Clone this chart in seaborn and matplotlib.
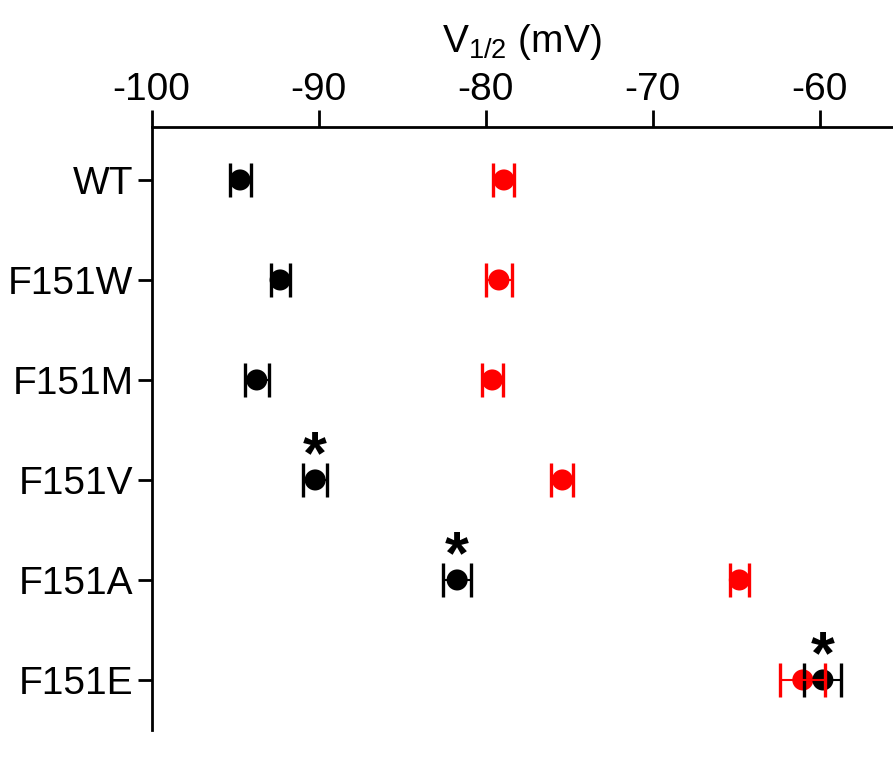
import numpy as np
import pandas as pd
import matplotlib
matplotlib.use("Agg")
import matplotlib.pyplot as plt
import seaborn as sns

# V1/2 values (mV)
mutants = ["WT", "F151W", "F151M", "F151V", "F151A", "F151E"]
v_black = [-94.7, -92.3, -93.7, -90.2, -81.7, -59.8]
err_black = [0.63, 0.57, 0.71, 0.72, 0.83, 1.1]
v_red = [-78.9, -79.2, -79.6, -75.4, -64.8, -61.0]
err_red = [0.63, 0.76, 0.64, 0.65, 0.55, 1.34]
significant = [False, False, False, True, True, True]

sns.set_style("ticks", {"axes.edgecolor": "black", "text.color": "black",
                        "xtick.color": "black", "ytick.color": "black",
                        "axes.labelcolor": "black"})
plt.rcParams["font.family"] = ["Liberation Sans", "DejaVu Sans"]
plt.rcParams["mathtext.fontset"] = "custom"
plt.rcParams["mathtext.rm"] = "Liberation Sans"
plt.rcParams["mathtext.it"] = "Liberation Sans"
plt.rcParams["axes.unicode_minus"] = False

pos = np.arange(len(mutants))
df = pd.DataFrame({"mutant": mutants, "pos": pos,
                   "black": v_black, "black_err": err_black,
                   "red": v_red, "red_err": err_red})

fig = plt.figure(figsize=(8.93, 7.58), dpi=100)
ax = fig.add_axes([0.1697, 0.037, 0.8303, 0.7955])

sns.scatterplot(data=df, x="red", y="pos", color="#ff0000", s=230,
                edgecolor="none", ax=ax, zorder=3)
sns.scatterplot(data=df, x="black", y="pos", color="black", s=230,
                edgecolor="none", ax=ax, zorder=4)
ax.errorbar(df["black"], df["pos"], xerr=df["black_err"], fmt="none",
            ecolor="black", elinewidth=1.5, capsize=12.5, capthick=2.4, zorder=5)
ax.errorbar(df["red"], df["pos"], xerr=df["red_err"], fmt="none",
            ecolor="#ff0000", elinewidth=1.5, capsize=12.5, capthick=2.4, zorder=6)

# asterisks for significance
for x, y, sig in zip(df["black"], df["pos"], significant):
    if sig:
        ax.text(x, y - 0.07, "*", ha="center", va="baseline",
                fontsize=44, fontweight="bold", color="black")

ax.set_xlim(-100, -55.6)
ax.set_ylim(5.5, -0.53)
ax.set_xticks([-100, -90, -80, -70, -60])
ax.set_yticks(pos)
ax.set_yticklabels(mutants)
ax.xaxis.tick_top()
ax.xaxis.set_label_position("top")
ax.set_xlabel("V$_{1/2}$ (mV)", fontsize=28, labelpad=14)
ax.set_ylabel("")

for side in ["right", "bottom"]:
    ax.spines[side].set_visible(False)
for side in ["top", "left"]:
    ax.spines[side].set_linewidth(2)
ax.tick_params(axis="x", which="major", direction="out", length=12,
               width=2, labelsize=28, pad=2, top=True, bottom=False)
ax.tick_params(axis="y", which="major", direction="out", length=10,
               width=2, labelsize=28, pad=3)

fig.savefig("out.png", dpi=100)
